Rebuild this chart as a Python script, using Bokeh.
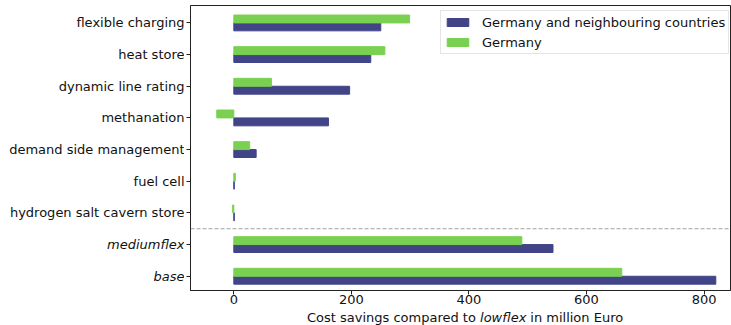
from bokeh.plotting import figure
from bokeh.layouts import row, column
from bokeh.models import (Range1d, FixedTicker, Span, Legend, LegendItem,
                          ColumnDataSource)
from bokeh.core.properties import value
from bokeh.embed import file_html
from bokeh.resources import INLINE

# ---- data ----
categories = ["base", "mediumflex", "hydrogen salt cavern store", "fuel cell",
              "demand side management", "methanation", "dynamic line rating",
              "heat store", "flexible charging"]
italic_categories = ["base", "mediumflex"]
neighbours = [820, 543, 0.8, 0.8, 38, 161, 197, 233, 250]
germany = [660, 490, -2, 2.5, 27, -29, 64, 257, 299]
x_ticks = [0, 200, 400, 600, 800]
series_names = ["Germany and neighbouring countries", "Germany"]
xlabel_parts = ["Cost savings compared to", "lowflex", "in million Euro"]

NAVY = "#414487"
GREEN = "#7ad151"
FONT = "DejaVu Sans"
FS = "13px"
TXT = "#111111"
SPACE_PX = 4.13       # width of a space in DejaVu Sans at 13px
ITALIC_W = 46.1       # width of the italic word at 13px

ypos = list(range(len(categories)))
src = ColumnDataSource(dict(
    y_n=[y - 0.125 for y in ypos],
    y_g=[y + 0.125 for y in ypos],
    n=neighbours, g=germany,
))

XMIN, XMAX = -73.7, 845
xr = Range1d(XMIN, XMAX)
yr = Range1d(-0.45, 8.55)

MAIN_H = 309
BOT = 19

# ---- main chart ----
p = figure(width=547, height=MAIN_H, output_backend="svg", toolbar_location=None,
           x_range=xr, y_range=yr,
           min_border_left=6, min_border_right=1, min_border_top=5,
           min_border_bottom=BOT)

rn = p.hbar(y="y_n", right="n", left=0, height=0.25, color=NAVY, source=src)
rg = p.hbar(y="y_g", right="g", left=0, height=0.25, color=GREEN, source=src)

p.add_layout(Span(location=1.5, dimension="width", line_color="#a0a0a0",
                  line_dash="4 2", line_width=1))

p.xgrid.visible = False
p.ygrid.visible = False
p.outline_line_color = "#222222"
p.outline_line_width = 1

for ax in (p.xaxis[0], p.yaxis[0]):
    ax.axis_line_color = "#222222"
    ax.major_tick_line_color = "#222222"
    ax.minor_tick_line_color = None
    ax.major_tick_out = 4
    ax.major_tick_in = 0
    ax.major_label_text_font = FONT
    ax.major_label_text_font_size = FS
    ax.major_label_text_color = TXT

p.xaxis.ticker = FixedTicker(ticks=x_ticks)
p.xaxis.major_label_standoff = 0
p.yaxis.ticker = FixedTicker(ticks=ypos)
p.yaxis.major_label_standoff = 0
p.yaxis.major_label_overrides = {i: "" for i in ypos}

legend = Legend(items=[LegendItem(label=series_names[0], renderers=[rn]),
                       LegendItem(label=series_names[1], renderers=[rg])],
                location=(250, 236), padding=3, spacing=4, label_height=16,
                glyph_height=10, glyph_width=27, label_standoff=11,
                label_text_font=FONT, label_text_font_size=FS,
                label_text_color=TXT, border_line_color="#cccccc",
                background_fill_alpha=0.8, margin=0)
p.add_layout(legend)

# ---- category labels (left), shared y range ----
lab = figure(width=184, height=MAIN_H, output_backend="svg", toolbar_location=None,
             x_range=Range1d(0, 1), y_range=yr, x_axis_location=None,
             y_axis_location=None, min_border_left=0, min_border_right=0,
             min_border_top=5, min_border_bottom=BOT)
lab.outline_line_color = None
lab.xgrid.visible = False
lab.ygrid.visible = False
norm_y = [i for i, c in enumerate(categories) if c not in italic_categories]
ital_y = [i for i, c in enumerate(categories) if c in italic_categories]
lab.text(x=[1] * len(norm_y), y=norm_y, text=[categories[i] for i in norm_y],
         text_align="right", text_baseline="middle", text_font=value(FONT),
         text_font_size=FS, text_color=TXT)
lab.text(x=[1] * len(ital_y), y=ital_y, text=[categories[i] for i in ital_y],
         text_align="right", text_baseline="middle", text_font=value(FONT),
         text_font_size=FS, text_font_style="italic", text_color=TXT)

# ---- x axis title with italic part, shared x range ----
xl = figure(width=731, height=325 - MAIN_H, output_backend="svg",
            toolbar_location=None, x_range=xr, y_range=Range1d(0, 1),
            x_axis_location=None, y_axis_location=None, min_border_left=190,
            min_border_right=1, min_border_top=0, min_border_bottom=0)
xl.outline_line_color = None
xl.xgrid.visible = False
xl.ygrid.visible = False
anchor = 418.9
xl.text(x=[anchor], y=[0.5], x_offset=-SPACE_PX, text=[xlabel_parts[0]],
        text_align="right", text_baseline="middle", text_font=value(FONT),
        text_font_size=FS, text_color=TXT)
xl.text(x=[anchor], y=[0.5], text=[xlabel_parts[1]], text_align="left",
        text_baseline="middle", text_font=value(FONT), text_font_size=FS,
        text_font_style="italic", text_color=TXT)
xl.text(x=[anchor], y=[0.5], x_offset=ITALIC_W + SPACE_PX, text=[xlabel_parts[2]],
        text_align="left", text_baseline="middle", text_font=value(FONT),
        text_font_size=FS, text_color=TXT)

layout = column(row(lab, p), xl)
open("out.html", "w").write(file_html(layout, INLINE))
